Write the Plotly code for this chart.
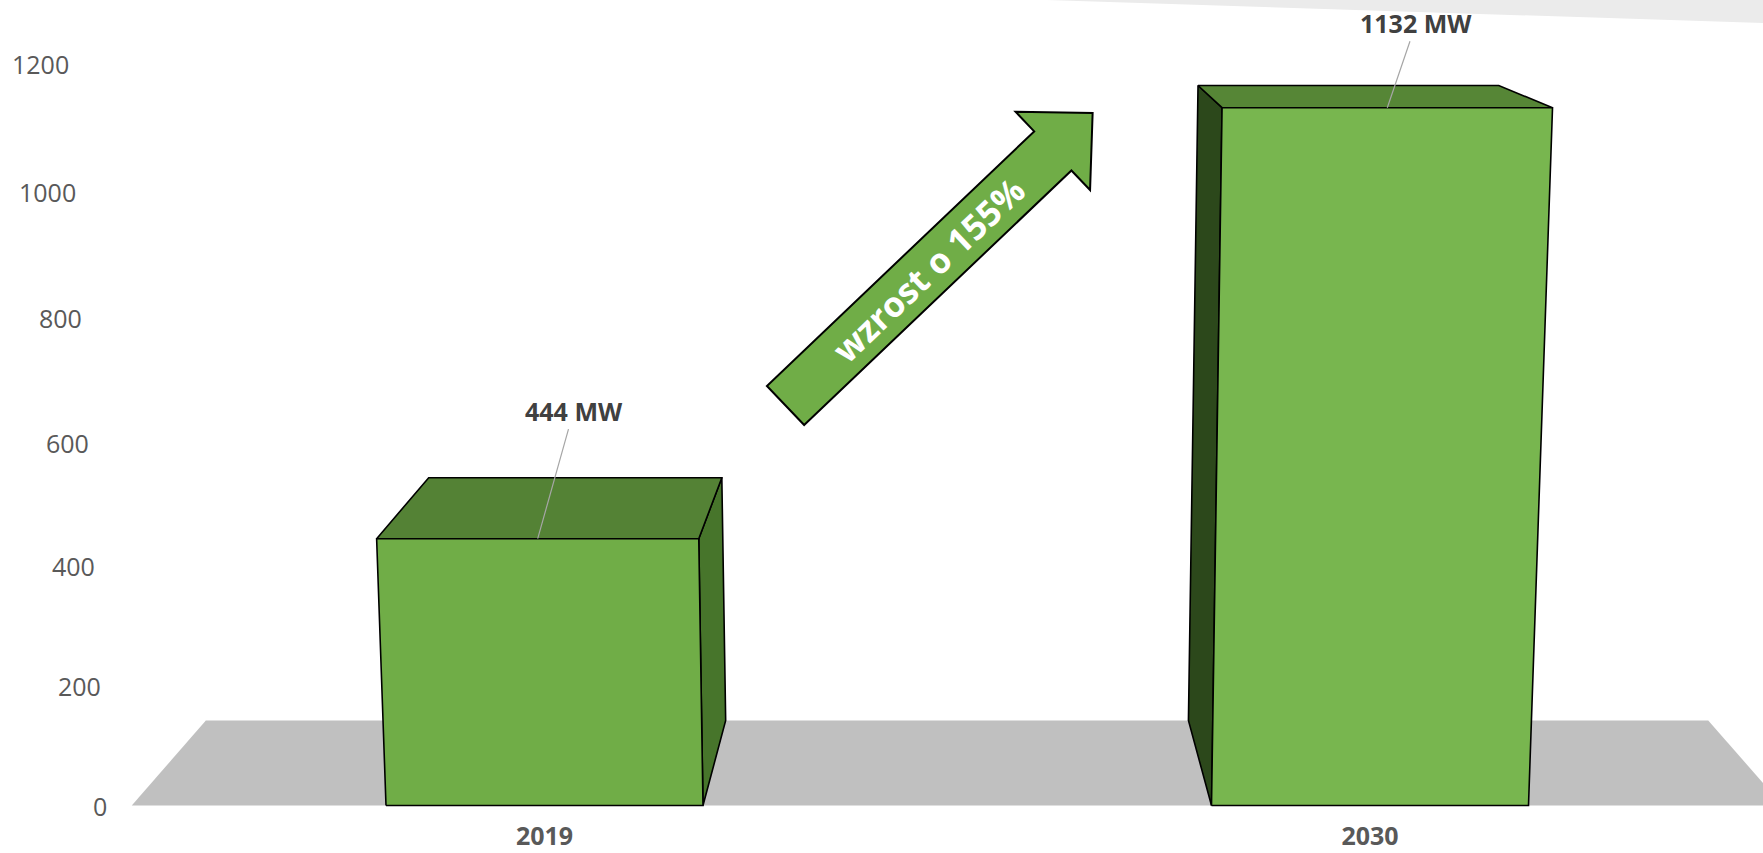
import math
import plotly.graph_objects as go

# ---- data -------------------------------------------------------------
categories = ["2019", "2030"]
capacity_mw = [444, 1132]
tick_values = [0, 200, 400, 600, 800, 1000, 1200]
tick_labels = ["0", "200", "400", "600", "800", "1000", "1200"]
value_suffix = " MW"

growth_pct = (capacity_mw[1] / capacity_mw[0] - 1) * 100
growth_text = f"wzrost o {growth_pct:.0f}%"

# ---- canvas / scales --------------------------------------------------
W, H = 1763, 853
MB = 40                       # bottom margin for category labels
PX0, PXU = 544.5, 825.5       # pixel of category 0, pixels per category step
Y0, PYU = 805.5, 0.5913       # pixel of value 0, pixels per MW on the front plane
X_RANGE = [(0 - PX0) / PXU, (W - PX0) / PXU]
Y_RANGE = [(Y0 - (H - MB)) / PYU, Y0 / PYU]

# ---- 3-D look: simple perspective ---------------------------------------
HALF_W = 0.192                # half bar width (category units)
KV = 3.6e-5                   # vertical convergence per MW
VX = 0.507                    # x of the vertical convergence point
SD = 0.09                     # depth shrink towards vanishing point
DX, DY = 0.4973, 1597.3       # depth vanishing point (axis units)
WALL_X = -0.527               # left wall where value labels sit


def project(x, v, d):
    f = 1.0 / (1.0 - KV * v)
    xs = VX + (x - VX) * f
    ys = v * f
    s = 1.0 - SD * d
    return DX + (xs - DX) * s, DY + (ys - DY) * s


def poly(points):
    xs = [p[0] for p in points] + [points[0][0]]
    ys = [p[1] for p in points] + [points[0][1]]
    return xs, ys


def face(points, fill, line_color="#000000", lw=1.6):
    xs, ys = poly(points)
    return go.Scatter(
        x=xs, y=ys, mode="lines", fill="toself", fillcolor=fill,
        line=dict(color=line_color, width=lw), hoverinfo="skip",
        showlegend=False,
    )


front_colors = ["#70AD47", "#78B64F"]
top_colors = ["#548235", "#568636"]
side_colors = ["#47752B", "#2C481B"]

fig = go.Figure()

# floor
floor = [project(-0.5, 0, 0), project(1.5, 0, 0), project(1.5, 0, 1), project(-0.5, 0, 1)]
fig.add_trace(face(floor, "#C0C0C0", line_color="rgba(0,0,0,0)", lw=0))

# bars
for i, v in enumerate(capacity_mw):
    l, r = i - HALF_W, i + HALF_W
    FLb, FRb = project(l, 0, 0), project(r, 0, 0)
    FLt, FRt = project(l, v, 0), project(r, v, 0)
    BLt, BRt = project(l, v, 1), project(r, v, 1)
    BLb, BRb = project(l, 0, 1), project(r, 0, 1)
    if i < DX:
        side = [FRb, FRt, BRt, BRb]
    else:
        side = [FLb, FLt, BLt, BLb]
    fig.add_trace(face(side, side_colors[i]))
    fig.add_trace(face([FLt, FRt, BRt, BLt], top_colors[i]))
    fig.add_trace(face([FLb, FRb, FRt, FLt], front_colors[i]))

annotations = []

# value labels along the left wall
for tv, tl in zip(tick_values, tick_labels):
    x, y = project(WALL_X, tv, 0)
    annotations.append(dict(
        x=x, y=y, xref="x", yref="y", text=tl, showarrow=False,
        xanchor="right", yanchor="middle",
        font=dict(family="Open Sans", size=25, color="#595959"),
    ))

# callouts with leader lines
label_offsets = [(36, -128), (29, -85)]   # pixel offsets of the text from the bar top
for i, v in enumerate(capacity_mw):
    hx, hy = project(i, v, 0)
    ax, ay = label_offsets[i]
    annotations.append(dict(
        x=hx, y=hy, xref="x", yref="y", text=f"<b>{v}{value_suffix}</b>",
        showarrow=True, arrowhead=0, arrowwidth=1.2, arrowcolor="#A6A6A6",
        ax=ax, ay=ay, borderpad=1,
        font=dict(family="Open Sans", size=25, color="#404040"),
    ))

# growth arrow between the bars
ARROW_TAIL = (0.292, 676.5)
ARROW_TIP = (0.664, 1171.2)
SHAFT_HW, HEAD_HW, HEAD_LEN = 27, 54, 55


def to_px(x, y):
    return PX0 + PXU * x, Y0 - PYU * y


def from_px(px, py):
    return (px - PX0) / PXU, (Y0 - py) / PYU


tx, ty = to_px(*ARROW_TAIL)
qx, qy = to_px(*ARROW_TIP)
L = math.hypot(qx - tx, qy - ty)
ux, uy = (qx - tx) / L, (qy - ty) / L
nx, ny = -uy, ux
bx, by = qx - ux * HEAD_LEN, qy - uy * HEAD_LEN
arrow_px = [
    (tx + nx * SHAFT_HW, ty + ny * SHAFT_HW),
    (bx + nx * SHAFT_HW, by + ny * SHAFT_HW),
    (bx + nx * HEAD_HW, by + ny * HEAD_HW),
    (qx, qy),
    (bx - nx * HEAD_HW, by - ny * HEAD_HW),
    (bx - nx * SHAFT_HW, by - ny * SHAFT_HW),
    (tx - nx * SHAFT_HW, ty - ny * SHAFT_HW),
]
arrow_pts = [from_px(*p) for p in arrow_px]
path = "M " + " L ".join(f"{x:.5f},{y:.3f}" for x, y in arrow_pts) + " Z"

shapes = [
    # light band at the top right
    dict(type="path", xref="paper", yref="paper", layer="below",
         path=f"M {1047/W:.5f},1 L 1,1 L 1,{1 - 23/(H - MB):.5f} Z",
         fillcolor="#EBEBEB", line=dict(width=0)),
    dict(type="path", xref="x", yref="y", path=path, layer="above",
         fillcolor="#70AD47", line=dict(color="#000000", width=2)),
]

angle = math.degrees(math.atan2(-uy, ux))
cx, cy = tx + ux * 197, ty + uy * 197
annotations.append(dict(
    x=from_px(cx, cy)[0], y=from_px(cx, cy)[1], xref="x", yref="y",
    text=f"<b>{growth_text}</b>", showarrow=False, textangle=-angle,
    font=dict(family="Open Sans", size=35, color="#FFFFFF"),
    xanchor="center", yanchor="middle",
))

fig.update_layout(
    width=W, height=H,
    margin=dict(l=0, r=0, t=0, b=MB),
    paper_bgcolor="#FFFFFF", plot_bgcolor="#FFFFFF",
    showlegend=False,
    xaxis=dict(
        range=X_RANGE, tickmode="array", tickvals=list(range(len(categories))),
        ticktext=categories, showgrid=False, zeroline=False, showline=False,
        ticks="", ticklabelstandoff=6, automargin=False,
        tickfont=dict(family="Open Sans", size=25, color="#595959", weight=700),
    ),
    yaxis=dict(range=Y_RANGE, visible=False, showgrid=False, zeroline=False,
               automargin=False),
    annotations=annotations,
    shapes=shapes,
)

fig.write_html("out.html", config={"displayModeBar": False})
